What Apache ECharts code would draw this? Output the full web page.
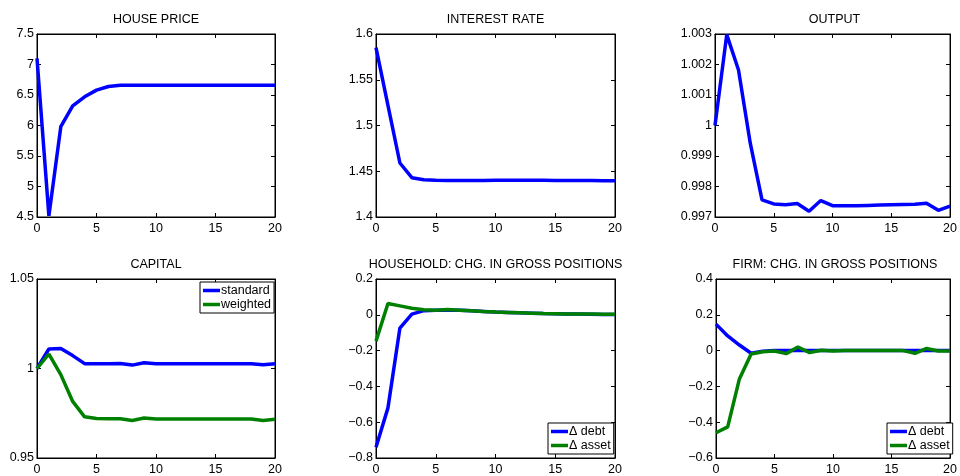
<!DOCTYPE html>
<html>
<head>
<meta charset="utf-8">
<script src="https://cdn.jsdelivr.net/npm/echarts@6/dist/echarts.min.js"></script>
<style>
html,body{margin:0;padding:0;background:#fff;}
#chart{width:960px;height:476px;}
</style>
</head>
<body>
<div id="chart"></div>
<script>
const periods = [0,1,2,3,4,5,6,7,8,9,10,11,12,13,14,15,16,17,18,19,20];
const xTicks = [0,5,10,15,20];

const housePrice = [7.10,4.52,5.98,6.32,6.47,6.58,6.64,6.66,6.66,6.66,6.66,6.66,6.66,6.66,6.66,6.66,6.66,6.66,6.66,6.66,6.66];
const interestRate = [1.585,1.522,1.459,1.443,1.4408,1.4402,1.4400,1.4398,1.4398,1.4399,1.4402,1.4403,1.4403,1.4402,1.4401,1.4400,1.4399,1.4398,1.4398,1.4397,1.4397];
const output = [1.0000,1.00298,1.00182,0.99942,0.99756,0.99743,0.99740,0.99744,0.99719,0.99754,0.99737,0.99737,0.99737,0.99738,0.99739,0.99740,0.99741,0.99742,0.99745,0.99722,0.99736];
const capitalStandard = [1.0000,1.0109,1.0112,1.0072,1.0027,1.0027,1.0027,1.0028,1.0019,1.0032,1.0027,1.0027,1.0027,1.0027,1.0027,1.0027,1.0027,1.0027,1.0027,1.0021,1.0027];
const capitalWeighted = [1.0000,1.0081,0.9966,0.9816,0.9730,0.9721,0.9719,0.9719,0.9710,0.9723,0.9718,0.9718,0.9718,0.9718,0.9718,0.9718,0.9718,0.9718,0.9718,0.9710,0.9716];
const hhDebt = [-0.740,-0.520,-0.074,0.004,0.023,0.026,0.026,0.026,0.023,0.019,0.015,0.013,0.011,0.009,0.007,0.006,0.005,0.004,0.003,0.002,0.001];
const hhAsset = [-0.147,0.063,0.050,0.037,0.028,0.026,0.030,0.026,0.022,0.018,0.015,0.013,0.011,0.009,0.007,0.006,0.005,0.004,0.004,0.003,0.003];
const firmDebt = [0.148,0.082,0.031,-0.015,-0.004,0.000,0.000,0.000,0.000,0.000,0.000,0.000,0.000,0.000,0.000,0.000,0.000,0.000,0.000,0.000,0.000];
const firmAsset = [-0.459,-0.426,-0.158,-0.019,-0.006,-0.002,-0.017,0.020,-0.011,0.002,-0.002,0.000,0.000,0.000,0.000,0.000,0.000,-0.015,0.012,-0.002,-0.002];

const titles = ['HOUSE PRICE','INTEREST RATE','OUTPUT','CAPITAL','HOUSEHOLD: CHG. IN GROSS POSITIONS','FIRM: CHG. IN GROSS POSITIONS'];
const yRanges = [[4.5,7.5,0.5],[1.4,1.6,0.05],[0.997,1.003,0.001],[0.95,1.05,0.05],[-0.8,0.2,0.2],[-0.6,0.4,0.2]];
const legendNames = [['standard','weighted'],['Δ debt','Δ asset']];

const FONT = 'Liberation Sans, Arial, Helvetica, sans-serif';
const BLUE = '#0000ff', GREEN = '#008000';

const gridPos = [
  {left:37, top:34, width:238, height:183},
  {left:376, top:34, width:239, height:183},
  {left:715, top:34, width:239, height:183},
  {left:37, top:279, width:238, height:183},
  {left:376, top:279, width:239, height:183},
  {left:716, top:279, width:238, height:183}
];

function pairs(vals){ return periods.map((t,i)=>[t, vals[i]]); }
function fmt(v){ return String(+v.toFixed(4)).replace('-', '\u2212'); }

const grid = [], xAxis = [], yAxis = [], title = [], series = [];
gridPos.forEach((g,i)=>{
  grid.push({left:g.left, top:g.top, width:g.width, height:g.height, show:true, borderColor:'#000', borderWidth:1, backgroundColor:'#fff'});
  title.push({text:titles[i], left:g.left + g.width/2, top:g.top - 21, textAlign:'center', padding:0,
    textStyle:{fontFamily:FONT, fontSize:12.5, fontWeight:'normal', color:'#000'}});
  const common = {gridIndex:i, type:'value', splitLine:{show:false},
    axisLine:{show:true, onZero:false, lineStyle:{color:'#000', width:1}},
    axisTick:{show:true, inside:true, length:4, lineStyle:{color:'#000'}}};
  xAxis.push(Object.assign({}, common, {position:'bottom', min:xTicks[0], max:xTicks[xTicks.length-1], interval:5,
    axisLabel:{show:true, fontFamily:FONT, fontSize:12.5, color:'#000', margin:5}}));
  xAxis.push(Object.assign({}, common, {position:'top', min:xTicks[0], max:xTicks[xTicks.length-1], interval:5, axisLabel:{show:false}}));
  const r = yRanges[i];
  yAxis.push(Object.assign({}, common, {position:'left', min:r[0], max:r[1], interval:r[2],
    axisLabel:{show:true, fontFamily:FONT, fontSize:12.5, color:'#000', margin:3, formatter:fmt}}));
  yAxis.push(Object.assign({}, common, {position:'right', min:r[0], max:r[1], interval:r[2], axisLabel:{show:false}}));
});

function line(name, idx, vals, color){
  return {name:name, type:'line', xAxisIndex:idx*2, yAxisIndex:idx*2, data:pairs(vals),
    symbol:'none', showSymbol:false, clip:true,
    lineStyle:{color:color, width:3.5}, itemStyle:{color:color}, animation:false};
}
series.push(line('house', 0, housePrice, BLUE));
series.push(line('rate', 1, interestRate, BLUE));
series.push(line('output', 2, output, BLUE));
series.push(line('standard', 3, capitalStandard, BLUE));
series.push(line('weighted', 3, capitalWeighted, GREEN));
series.push(line('Δ debt', 4, hhDebt, BLUE));
series.push(line('Δ asset', 4, hhAsset, GREEN));
series.push(line('Δ debt', 5, firmDebt, BLUE));
series.push(line('Δ asset', 5, firmAsset, GREEN));

function legendAt(names, left, top){
  return {data:names, orient:'vertical', left:left, top:top, padding:[2,3,2,3], itemGap:1,
    itemWidth:17, itemHeight:12, borderColor:'#000', borderWidth:1, backgroundColor:'#fff',
    selectedMode:false, icon:'path://M0,4.5 L17,4.5 L17,8 L0,8 Z',
    textStyle:{fontFamily:FONT, fontSize:12.5, color:'#000', padding:[0,0,0,-4]}};
}
const legend = [
  legendAt(legendNames[0], 200, 282),
  legendAt(legendNames[1], 548, 423),
  legendAt(legendNames[1], 887, 423)
];

const chart = echarts.init(document.getElementById('chart'), null, {renderer:'canvas'});
chart.setOption({animation:false, backgroundColor:'#fff', grid, xAxis, yAxis, title, series, legend});
</script>
</body>
</html>
